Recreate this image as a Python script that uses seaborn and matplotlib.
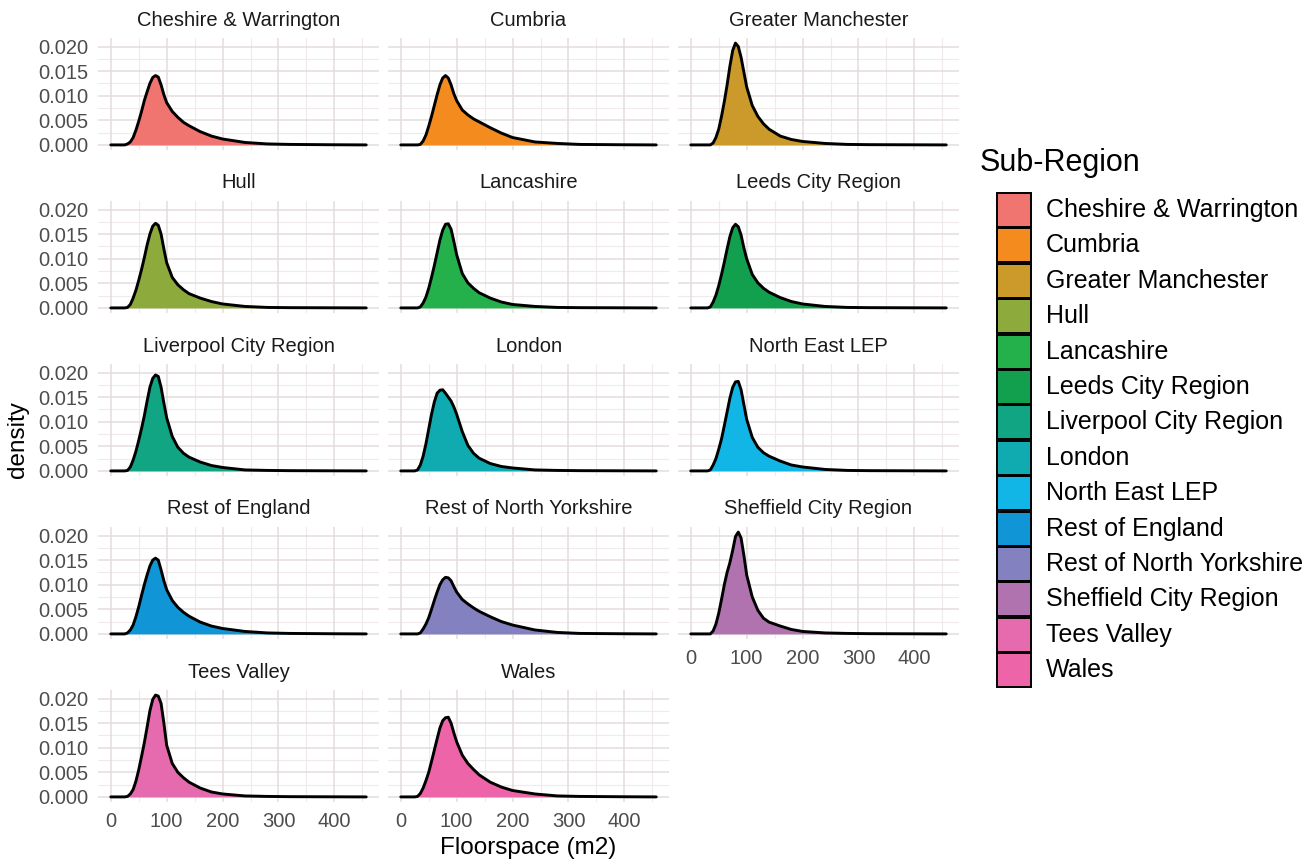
import numpy as np
import pandas as pd
import matplotlib
matplotlib.use("Agg")
import matplotlib.pyplot as plt
from matplotlib.patches import Rectangle
import seaborn as sns

# ---------------- data ----------------
regions = ["Cheshire & Warrington", "Cumbria", "Greater Manchester", "Hull",
           "Lancashire", "Leeds City Region", "Liverpool City Region", "London",
           "North East LEP", "Rest of England", "Rest of North Yorkshire",
           "Sheffield City Region", "Tees Valley", "Wales"]

floorspace = [0, 25, 30, 35, 40, 45, 50, 55, 60, 65, 70, 75, 80, 85, 90, 95,
              100, 110, 120, 130, 140, 160, 180, 200, 240, 280, 320, 400, 457]

d_cheshire = [0, 0, 0.0002, 0.0006, 0.0015, 0.0030, 0.0048, 0.0068, 0.0090, 0.0108, 0.0125, 0.0137, 0.0141, 0.0138, 0.0122, 0.0102, 0.0086, 0.0068, 0.0056, 0.0046, 0.0039, 0.0027, 0.0018, 0.0012, 0.0005, 0.0002, 0.0001, 0.00003, 0]
d_cumbria = [0, 0, 0, 0.0001, 0.0008, 0.0020, 0.0038, 0.0058, 0.0080, 0.0102, 0.0122, 0.0136, 0.0141, 0.0136, 0.0122, 0.0104, 0.0090, 0.0071, 0.0061, 0.0053, 0.0047, 0.0035, 0.0024, 0.0015, 0.0006, 0.0003, 0.0001, 0.00003, 0]
d_gmanchester = [0, 0, 0, 0, 0.0004, 0.0015, 0.0032, 0.0058, 0.0088, 0.0122, 0.0160, 0.0192, 0.0207, 0.0200, 0.0178, 0.0148, 0.0118, 0.0080, 0.0058, 0.0043, 0.0032, 0.0018, 0.0011, 0.0007, 0.0003, 0.0001, 0.00005, 0.00002, 0]
d_hull = [0, 0, 0.0001, 0.0007, 0.0020, 0.0036, 0.0056, 0.0078, 0.0102, 0.0128, 0.0150, 0.0166, 0.0172, 0.0168, 0.0150, 0.0120, 0.0092, 0.0062, 0.0047, 0.0037, 0.0029, 0.0020, 0.0013, 0.0008, 0.0003, 0.0001, 0.00005, 0.00002, 0]
d_lancashire = [0, 0, 0, 0.0002, 0.0010, 0.0022, 0.0040, 0.0062, 0.0086, 0.0112, 0.0138, 0.0158, 0.0170, 0.0171, 0.0160, 0.0135, 0.0108, 0.0070, 0.0051, 0.0040, 0.0031, 0.0020, 0.0012, 0.0007, 0.0003, 0.0001, 0.00005, 0.00002, 0]
d_leeds = [0, 0, 0, 0.0002, 0.0012, 0.0026, 0.0045, 0.0068, 0.0093, 0.0120, 0.0145, 0.0163, 0.0170, 0.0165, 0.0148, 0.0122, 0.0100, 0.0068, 0.0051, 0.0040, 0.0032, 0.0021, 0.0013, 0.0008, 0.0003, 0.0001, 0.00005, 0.00002, 0]
d_liverpool = [0, 0, 0.0001, 0.0008, 0.0022, 0.0040, 0.0062, 0.0086, 0.0112, 0.0142, 0.0170, 0.0188, 0.0195, 0.0192, 0.0170, 0.0138, 0.0108, 0.0070, 0.0048, 0.0036, 0.0028, 0.0018, 0.0011, 0.0007, 0.0002, 0.0001, 0.00005, 0.00002, 0]
d_london = [0, 0, 0.0002, 0.0012, 0.0030, 0.0055, 0.0085, 0.0115, 0.0140, 0.0158, 0.0164, 0.0165, 0.0158, 0.0150, 0.0142, 0.0130, 0.0115, 0.0080, 0.0052, 0.0036, 0.0026, 0.0015, 0.0009, 0.0006, 0.0002, 0.0001, 0.00005, 0.00002, 0]
d_northeast = [0, 0, 0, 0.0002, 0.0012, 0.0025, 0.0044, 0.0065, 0.0092, 0.0120, 0.0148, 0.0170, 0.0181, 0.0182, 0.0165, 0.0135, 0.0105, 0.0068, 0.0048, 0.0037, 0.0030, 0.0020, 0.0012, 0.0008, 0.0003, 0.0001, 0.00005, 0.00002, 0]
d_restengland = [0, 0, 0.0002, 0.0008, 0.0018, 0.0035, 0.0055, 0.0078, 0.0100, 0.0120, 0.0138, 0.0150, 0.0154, 0.0150, 0.0130, 0.0108, 0.0090, 0.0068, 0.0054, 0.0044, 0.0036, 0.0024, 0.0016, 0.0011, 0.0005, 0.0002, 0.0001, 0.00003, 0]
d_restnyorks = [0, 0, 0, 0.0002, 0.0010, 0.0020, 0.0033, 0.0050, 0.0068, 0.0085, 0.0100, 0.0110, 0.0115, 0.0114, 0.0108, 0.0096, 0.0085, 0.0070, 0.0061, 0.0053, 0.0046, 0.0035, 0.0025, 0.0018, 0.0008, 0.0003, 0.0001, 0.00003, 0]
d_sheffield = [0, 0, 0, 0, 0.0006, 0.0020, 0.0042, 0.0070, 0.0100, 0.0125, 0.0145, 0.0170, 0.0198, 0.0207, 0.0195, 0.0160, 0.0120, 0.0075, 0.0048, 0.0032, 0.0024, 0.0016, 0.0009, 0.0005, 0.0002, 0.0001, 0.00005, 0.00002, 0]
d_teesvalley = [0, 0, 0.0001, 0.0006, 0.0015, 0.0032, 0.0055, 0.0082, 0.0110, 0.0142, 0.0175, 0.0198, 0.0207, 0.0205, 0.0190, 0.0150, 0.0105, 0.0068, 0.0050, 0.0039, 0.0030, 0.0018, 0.0010, 0.0006, 0.0002, 0.0001, 0.00005, 0.00002, 0]
d_wales = [0, 0, 0.0001, 0.0007, 0.0018, 0.0033, 0.0050, 0.0072, 0.0095, 0.0118, 0.0140, 0.0155, 0.0161, 0.0162, 0.0150, 0.0130, 0.0112, 0.0085, 0.0068, 0.0056, 0.0045, 0.0030, 0.0020, 0.0013, 0.0006, 0.0002, 0.0001, 0.00003, 0]

densities = [d_cheshire, d_cumbria, d_gmanchester, d_hull, d_lancashire, d_leeds,
             d_liverpool, d_london, d_northeast, d_restengland, d_restnyorks,
             d_sheffield, d_teesvalley, d_wales]

fill_colors = ["#F07470", "#F38B1F", "#CC9A2A", "#8DAA3C", "#24B04A", "#12A04E",
               "#12A584", "#10ABB0", "#12B6E6", "#1096D6", "#8381C0", "#B073B0",
               "#E66AAE", "#EE64A8"]

x_ticks = [0, 100, 200, 300, 400]
y_ticks = [0.000, 0.005, 0.010, 0.015, 0.020]
y_tick_labels = ["0.000", "0.005", "0.010", "0.015", "0.020"]

df = pd.concat([pd.DataFrame({"Floorspace": floorspace, "density": d, "Sub-Region": r})
                for r, d in zip(regions, densities)], ignore_index=True)

# ---------------- style ----------------
sns.set_style("white")
plt.rcParams["font.family"] = ["Liberation Sans", "DejaVu Sans"]

W, H = 1315, 866
fig = plt.figure(figsize=(W / 100, H / 100), dpi=100)
fig.patch.set_facecolor("white")


def rect(l, t, r, b):
    return [l / W, 1 - b / H, (r - l) / W, (b - t) / H]


col_left = [98, 388, 678]
panel_w, panel_h = 281, 112
row_top0, row_step = 38, 163

xmax = max(floorspace)
xpad = 0.05 * xmax
ymax = df["density"].max()
ypad = 0.05 * ymax

grid_major = "#E4DCDC"
grid_minor = "#F0EAEA"

for i, region in enumerate(regions):
    row, col = divmod(i, 3)
    left = col_left[col]
    top = row_top0 + row * row_step
    ax = fig.add_axes(rect(left, top, left + panel_w, top + panel_h))
    sub = df[df["Sub-Region"] == region]
    ax.set_xlim(-xpad, xmax + xpad)
    ax.set_ylim(-ypad, ymax + ypad)
    # grid
    for xv in [50, 150, 250, 350, 450]:
        ax.axvline(xv, color=grid_minor, lw=0.8, zorder=0)
    for yv in [0.0025, 0.0075, 0.0125, 0.0175]:
        ax.axhline(yv, color=grid_minor, lw=0.8, zorder=0)
    for xv in x_ticks:
        ax.axvline(xv, color=grid_major, lw=1.1, zorder=0)
    for yv in y_ticks:
        ax.axhline(yv, color=grid_major, lw=1.1, zorder=0)
    ax.fill_between(sub["Floorspace"], 0, sub["density"], color=fill_colors[i],
                    lw=0, zorder=2)
    sns.lineplot(data=sub, x="Floorspace", y="density", color="black", lw=2.1,
                 ax=ax, zorder=3, sort=False)
    for s in ax.spines.values():
        s.set_visible(False)
    ax.set_xlabel("")
    ax.set_ylabel("")
    ax.set_xticks(x_ticks)
    ax.set_yticks(y_ticks)
    ax.tick_params(length=0, labelsize=14.5, labelcolor="#4D4D4D", pad=7)
    if col == 0:
        ax.set_yticklabels(y_tick_labels)
    else:
        ax.set_yticklabels([])
    bottom_row = (row == 4) or (row == 3 and col == 2)
    if bottom_row:
        ax.set_xticklabels([str(v) for v in x_ticks])
    else:
        ax.set_xticklabels([])
    ax.text(0.5, 1 + 18 / panel_h, region, transform=ax.transAxes,
            ha="center", va="center", fontsize=14.5, color="#1A1A1A")

# axis titles
fig.text(528 / W, 1 - 848 / H, "Floorspace (m2)", ha="center", va="center",
         fontsize=17.5, color="black")
fig.text(18 / W, 1 - 440 / H, "density", ha="center", va="center",
         rotation=90, fontsize=17.5, color="black")

# legend
lax = fig.add_axes([0, 0, 1, 1], facecolor="none")
lax.set_xlim(0, W)
lax.set_ylim(H, 0)
lax.axis("off")
lax.text(980, 163, "Sub-Region", ha="left", va="center", fontsize=22, color="black")
key_y0, key_step, key_size = 210, 35.4, 34
for k, (region, c) in enumerate(zip(regions, fill_colors)):
    yc = key_y0 + k * key_step
    lax.add_patch(Rectangle((997, yc - key_size / 2), key_size, key_size,
                            facecolor=c, edgecolor="black", lw=1.4))
    lax.text(1046, yc, region, ha="left", va="center", fontsize=18, color="black")

fig.savefig("out.png", dpi=100, facecolor="white")
